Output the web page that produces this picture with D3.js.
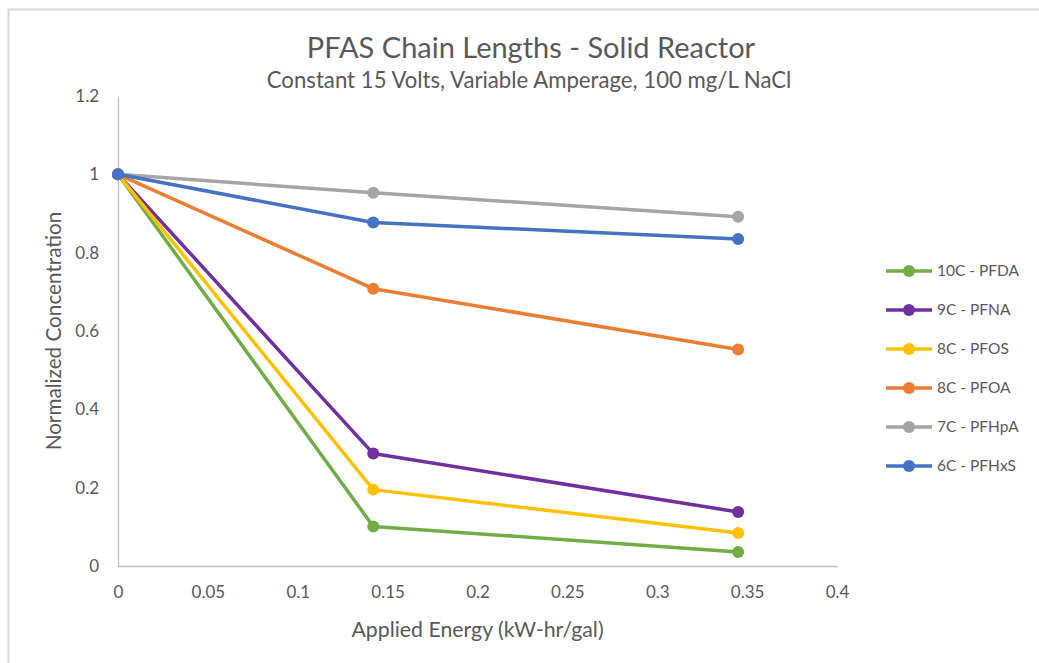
<!DOCTYPE html>
<html>
<head>
<meta charset="utf-8">
<script src="https://cdn.jsdelivr.net/npm/d3@7"></script>
<style>
  body { margin: 0; background: #fff; }
  text { font-family: Lato, "Open Sans", sans-serif; }
</style>
</head>
<body>
<script>
// data
var energy = [0, 0.142, 0.345];
var seriesNames = ["10C - PFDA", "9C - PFNA", "8C - PFOS", "8C - PFOA", "7C - PFHpA", "6C - PFHxS"];
var pfda  = [1, 0.101, 0.036];
var pfna  = [1, 0.287, 0.138];
var pfos  = [1, 0.195, 0.084];
var pfoa  = [1, 0.708, 0.553];
var pfhpa = [1, 0.953, 0.892];
var pfhxs = [1, 0.877, 0.835];
var xTicks = [0, 0.05, 0.1, 0.15, 0.2, 0.25, 0.3, 0.35, 0.4];
var yTicks = [0, 0.2, 0.4, 0.6, 0.8, 1, 1.2];
var colors = ["#70AD47", "#7030A0", "#FFC000", "#ED7D31", "#A5A5A5", "#4472C4"];

var series = [pfda, pfna, pfos, pfoa, pfhpa, pfhxs].map(function (vals, i) {
    return { name: seriesNames[i], color: colors[i], values: vals };
});

var w = 1039, h = 663;
var plotL = 118, plotR = 837, plotT = 96, plotB = 566;

var svg = d3.select("body").append("svg")
    .attr("width", w)
    .attr("height", h);

// chart frame (cropped on right/bottom)
svg.append("rect")
    .attr("x", 8.5).attr("y", 9.5)
    .attr("width", w + 20).attr("height", h + 20)
    .attr("fill", "#fff")
    .attr("stroke", "#d9d9d9")
    .attr("stroke-width", 2);

var x = d3.scaleLinear().domain([0, 0.4]).range([plotL, plotR]);
var y = d3.scaleLinear().domain([0, 1.2]).range([plotB, plotT]);

// axes
var xAxis = svg.append("g")
    .attr("transform", "translate(0," + plotB + ")")
    .call(d3.axisBottom(x).tickValues(xTicks).tickSize(0).tickPadding(20)
        .tickFormat(function (d) { return String(+d.toFixed(2)); }));
var yAxis = svg.append("g")
    .attr("transform", "translate(" + plotL + ",0)")
    .call(d3.axisLeft(y).tickValues(yTicks).tickSize(0).tickPadding(19)
        .tickFormat(function (d) { return String(+d.toFixed(1)); }));

[xAxis, yAxis].forEach(function (g) {
    g.select(".domain").attr("stroke", "#bfbfbf").attr("stroke-width", 1.3);
    g.selectAll("text").attr("fill", "#595959").style("font-size", "17px")
        .style("font-family", "Lato, 'Open Sans', sans-serif");
});

// titles
svg.append("text")
    .attr("x", 531).attr("y", 58)
    .attr("text-anchor", "middle")
    .attr("fill", "#595959")
    .style("font-size", "29px")
    .text("PFAS Chain Lengths - Solid Reactor");
svg.append("text")
    .attr("x", 529).attr("y", 88)
    .attr("text-anchor", "middle")
    .attr("fill", "#595959")
    .style("font-size", "22.2px")
    .text("Constant 15 Volts, Variable Amperage, 100 mg/L NaCl");

svg.append("text")
    .attr("x", (plotL + plotR) / 2).attr("y", 637)
    .attr("text-anchor", "middle")
    .attr("fill", "#595959")
    .style("font-size", "21.3px")
    .text("Applied Energy (kW-hr/gal)");
svg.append("text")
    .attr("transform", "translate(61," + ((plotT + plotB) / 2) + ")rotate(-90)")
    .attr("text-anchor", "middle")
    .attr("fill", "#595959")
    .style("font-size", "20.7px")
    .text("Normalized Concentration");

// lines + markers
var line = d3.line()
    .x(function (d, i) { return x(energy[i]); })
    .y(function (d) { return y(d); });

var g = svg.selectAll(".series")
    .data(series)
    .enter().append("g")
    .attr("class", "series");

g.append("path")
    .attr("d", function (d) { return line(d.values); })
    .attr("fill", "none")
    .attr("stroke", function (d) { return d.color; })
    .attr("stroke-width", 3.5)
    .attr("stroke-linejoin", "round");

g.selectAll("circle")
    .data(function (d) { return d.values.map(function (v, i) { return { v: v, i: i, c: d.color }; }); })
    .enter().append("circle")
    .attr("cx", function (d) { return x(energy[d.i]); })
    .attr("cy", function (d) { return y(d.v); })
    .attr("r", 6)
    .attr("fill", function (d) { return d.c; });

// legend
var legend = svg.selectAll(".legend")
    .data(series)
    .enter().append("g")
    .attr("class", "legend")
    .attr("transform", function (d, i) { return "translate(886," + (271 + i * 39) + ")"; });

legend.append("line")
    .attr("x1", 0).attr("x2", 46)
    .attr("stroke", function (d) { return d.color; })
    .attr("stroke-width", 3.5);
legend.append("circle")
    .attr("cx", 23).attr("r", 6)
    .attr("fill", function (d) { return d.color; });
legend.append("text")
    .attr("x", 51).attr("dy", "0.35em")
    .attr("fill", "#595959")
    .style("font-size", "15.5px")
    .text(function (d) { return d.name; });
</script>
</body>
</html>
